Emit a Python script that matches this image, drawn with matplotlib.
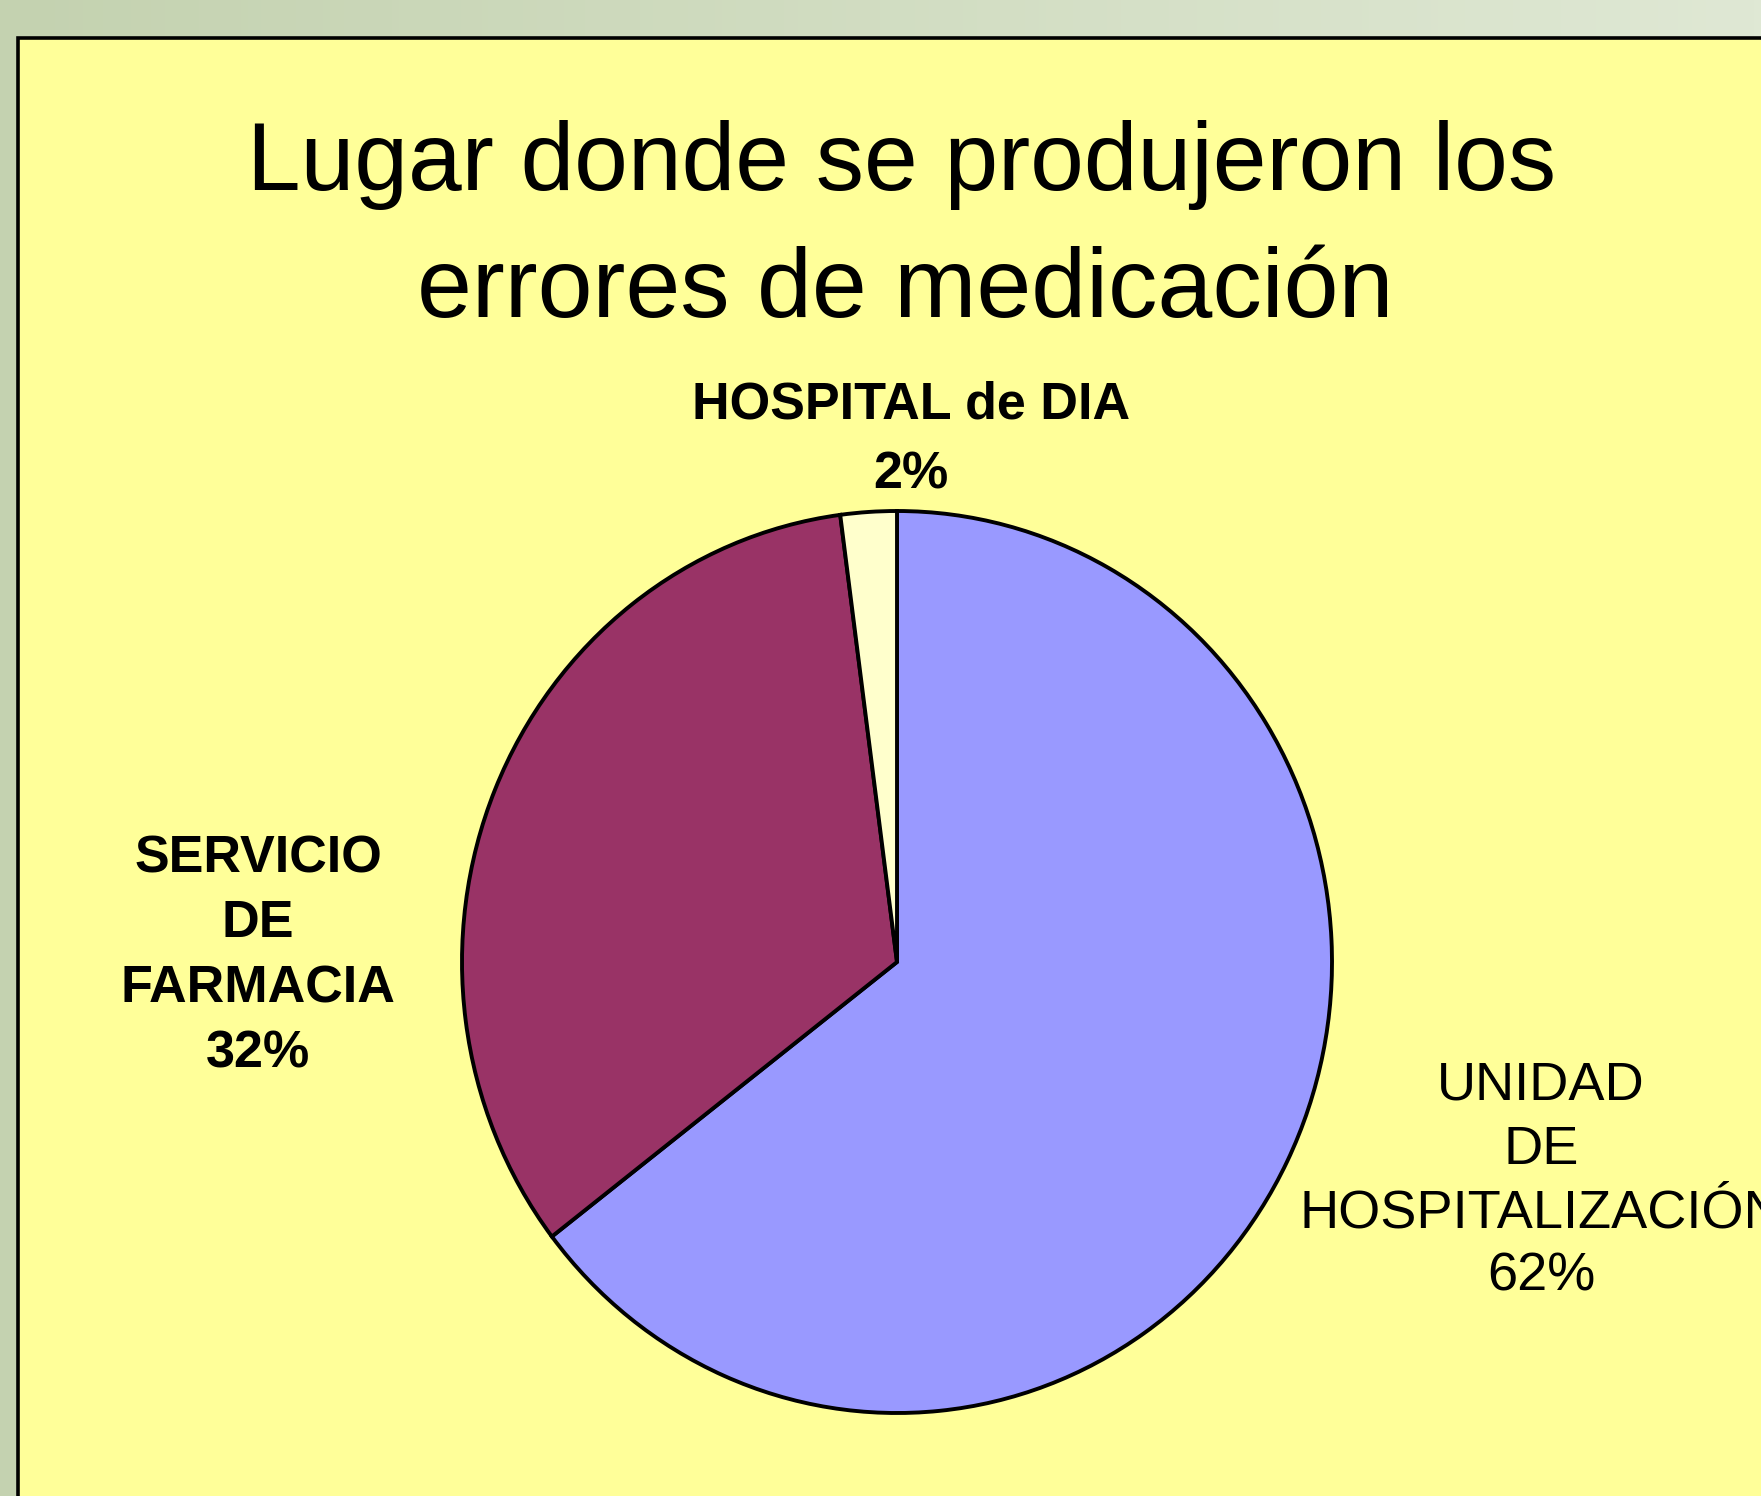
import matplotlib.pyplot as plt
import numpy as np
from matplotlib.colors import LinearSegmentedColormap
from matplotlib.patches import Rectangle

plt.rcParams['font.family'] = ['Liberation Sans', 'DejaVu Sans']

W, H = 1761, 1496

titulo = ["Lugar donde se produjeron los", "errores de medicación"]
lugares = [["UNIDAD", "DE", "HOSPITALIZACIÓN"],
           ["SERVICIO", "DE", "FARMACIA"],
           ["HOSPITAL de DIA"]]
porcentajes = [62, 32, 2]
colores = ["#9999ff", "#993366", "#ffffcc"]

# where each label sits (pixels): centre x, first baseline, line pitch, weight
label_pos = [(1541, 1100, 63.5, "normal"),
             (258, 872, 65, "bold"),
             (911, 418, 70, "bold")]

fig = plt.figure(figsize=(W / 100, H / 100), dpi=100)

# background: greenish gradient with a yellow framed panel, pixel coords
bg = fig.add_axes([0, 0, 1, 1])
bg.set_xlim(0, W)
bg.set_ylim(H, 0)
bg.axis("off")
cmap = LinearSegmentedColormap.from_list("fondo", ["#c4d2b0", "#dfe8d4"])
bg.imshow(np.linspace(0, 1, 256).reshape(1, -1), cmap=cmap, aspect="auto",
          extent=(0, W, H, 0))
bg.add_patch(Rectangle((18, 38), 2000, 2000, facecolor="#ffff99",
                       edgecolor="black", linewidth=2.6))


def draw_lines(lines, cx, y0, pitch, size, weight):
    for i, line in enumerate(lines):
        bg.text(cx, y0 + i * pitch, line, ha="center", va="baseline",
                fontsize=size, fontweight=weight, color="black")


draw_lines(titulo[:1], 902, 190, 127, 69.5, "normal")
draw_lines(titulo[1:], 905, 317, 127, 71, "normal")

# pie, slightly taller than wide like the original
cx, cy, rx, ry = 897, 962, 435, 451
pax = fig.add_axes([(cx - rx) / W, 1 - (cy + ry) / H, 2 * rx / W, 2 * ry / H])
pax.pie(porcentajes, colors=colores, startangle=90, counterclock=False,
        wedgeprops=dict(edgecolor="black", linewidth=2.8))
pax.set_aspect("auto")
pax.set_xlim(-1, 1)
pax.set_ylim(-1, 1)

for nombre, pct, (lx, ly, pitch, weight) in zip(lugares, porcentajes, label_pos):
    size = 39 if weight == "normal" else 37.5
    draw_lines(nombre + ["{}%".format(pct)], lx, ly, pitch, size, weight)

fig.savefig("out.png", dpi=100)
